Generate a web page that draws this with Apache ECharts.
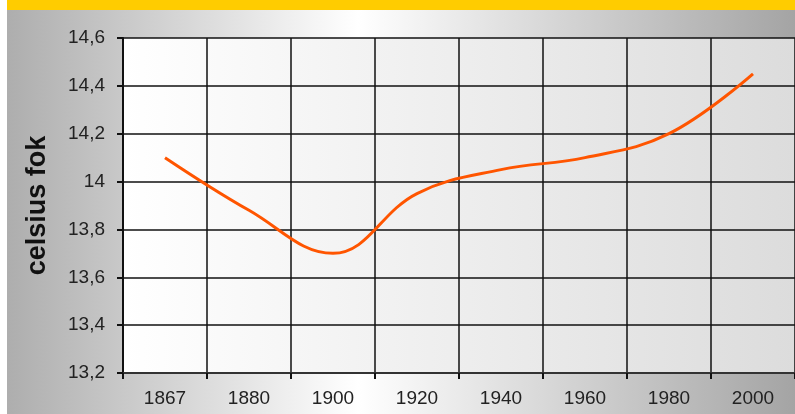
<!DOCTYPE html>
<html>
<head>
<meta charset="utf-8">
<script src="https://cdn.jsdelivr.net/npm/echarts@6/dist/echarts.min.js"></script>
<style>
  html, body { margin: 0; padding: 0; }
  #chart { width: 795px; height: 414px; }
</style>
</head>
<body>
<div id="chart"></div>
<script>
// data
var years = ['1867', '1880', '1900', '1920', '1940', '1960', '1980', '2000'];
var temps = [14.1, 13.88, 13.7, 13.95, 14.05, 14.1, 14.2, 14.45];

var myChart = echarts.init(document.getElementById('chart'));

var option = {
    backgroundColor: new echarts.graphic.LinearGradient(0, 0, 1, 0, [
        { offset: 0, color: '#acacac' },
        { offset: 0.45, color: '#ffffff' },
        { offset: 1, color: '#a4a4a4' }
    ]),
    graphic: [
        // white strip on the left
        { type: 'rect', left: 0, top: 0, shape: { width: 7, height: 414 }, style: { fill: '#ffffff' } },
        // yellow band at top
        { type: 'rect', left: 7, top: 0, shape: { width: 788, height: 10 }, style: { fill: '#ffcc00' } }
    ],
    grid: {
        left: 123,
        top: 38,
        width: 672,
        height: 335,
        show: true,
        borderWidth: 0,
        backgroundColor: new echarts.graphic.LinearGradient(0, 0, 1, 0, [
            { offset: 0, color: '#ffffff' },
            { offset: 1, color: '#dcdcdc' }
        ])
    },
    xAxis: {
        type: 'category',
        data: years,
        boundaryGap: true,
        axisLine: { lineStyle: { color: '#333', width: 2 } },
        axisTick: { show: true, length: 6, lineStyle: { color: '#111', width: 2 } },
        axisLabel: { color: '#222', fontSize: 19, fontFamily: 'Liberation Sans', margin: 16 },
        splitLine: { show: true, lineStyle: { color: '#111', width: 1.5 } }
    },
    yAxis: {
        type: 'value',
        min: 13.2,
        max: 14.6,
        interval: 0.2,
        name: 'celsius fok',
        nameLocation: 'middle',
        nameGap: 72,
        nameTextStyle: { color: '#111', fontSize: 27, fontWeight: 'bold', fontFamily: 'Liberation Sans' },
        axisLine: { show: true, lineStyle: { color: '#111', width: 2 } },
        axisTick: { show: true, length: 6, lineStyle: { color: '#111', width: 2 } },
        axisLabel: {
            color: '#222',
            fontSize: 19,
            fontFamily: 'Liberation Sans',
            margin: 18,
            formatter: function (v) {
                return String(Math.round(v * 10) / 10).replace('.', ',');
            }
        },
        splitLine: { show: true, lineStyle: { color: '#111', width: 1.5 } }
    },
    series: [
        {
            type: 'line',
            data: temps,
            smooth: 0.4,
            showSymbol: false,
            lineStyle: { color: '#ff5500', width: 3 }
        }
    ]
};

myChart.setOption(option);
</script>
</body>
</html>
